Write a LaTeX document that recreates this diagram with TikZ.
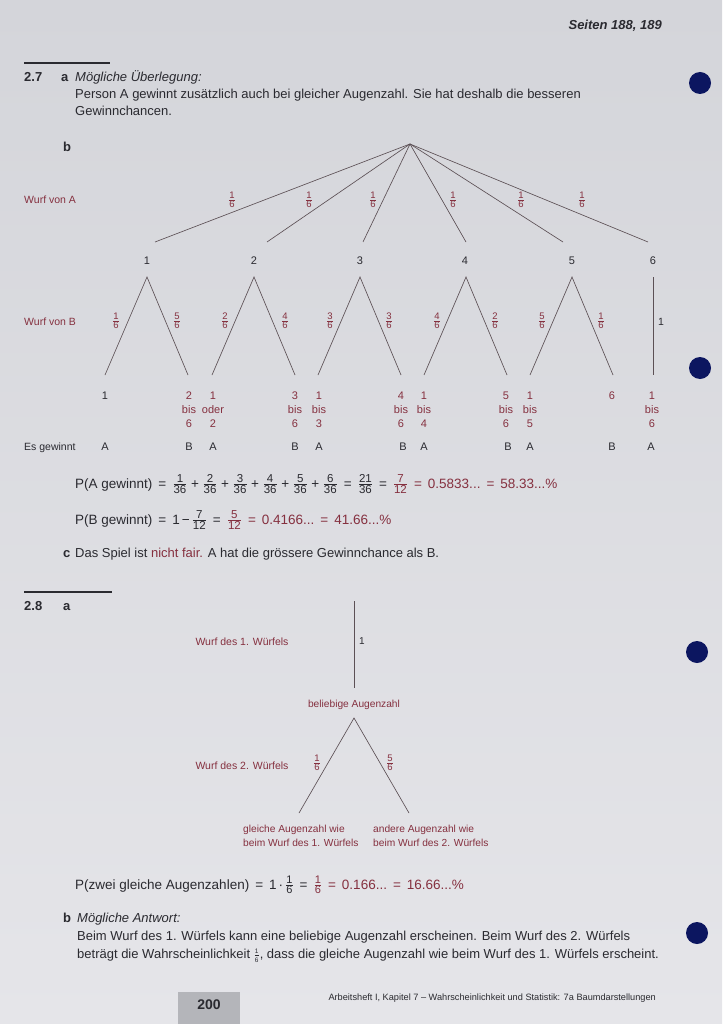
\documentclass[tikz,border=0pt]{standalone}
\usepackage{fontspec}
\setmainfont{Liberation Sans}
\definecolor{bgtop}{HTML}{D4D5DA}
\definecolor{bgbot}{HTML}{E5E5E9}
\definecolor{ink}{HTML}{2A2A30}
\definecolor{ans}{HTML}{85303F}
\definecolor{treeln}{HTML}{5C5055}
\definecolor{dotc}{HTML}{0C1660}
\definecolor{tabc}{HTML}{B4B5BA}
\newcommand\fr[3][9.5]{\ensuremath{\frac{\hbox{\fontsize{#1}{#1}\selectfont #2}}{\hbox{\fontsize{#1}{#1}\selectfont #3}}}}
\newcommand\eq{\hspace{6pt}=\hspace{6pt}}
\newcommand\pl{\hspace{3.5pt}+\hspace{3.5pt}}
\begin{document}
\begin{tikzpicture}[x=1pt,y=-1pt,
  body/.style={inner sep=0pt, anchor=base west, text=ink, font=\fontsize{13}{15}\selectfont},
  bodyb/.style={body, font=\fontsize{13}{15}\selectfont\bfseries},
  eqn/.style={body, font=\fontsize{13.5}{15}\selectfont},
  lab/.style={inner sep=0pt, anchor=base west, text=ans, font=\fontsize{10.5}{12}\selectfont},
  small/.style={inner sep=0pt, anchor=base, text=ink, font=\fontsize{11}{14}\selectfont, align=center},
  smallred/.style={small, text=ans},
  frac/.style={inner sep=0pt, text=ans},
  branch/.style={draw=treeln, line width=0.65pt},
  bullet/.style={circle, fill=dotc, minimum size=22pt, inner sep=0pt},
  rulebar/.style={line width=2pt, draw=ink}]
\useasboundingbox (0,0) rectangle (722,1024);
\shade[top color=bgtop, bottom color=bgbot] (0,0) rectangle (722,1024);

% header
\node[inner sep=0pt, anchor=base east, text=ink, font=\fontsize{13}{15}\selectfont\bfseries\itshape] (hdr) at (662,30) {Seiten 188, 189};

% 2.7
\coordinate (r1a) at (24,63); \coordinate (r1b) at (110,63);
\draw[rulebar] (r1a) -- (r1b);
\node[bodyb] (n27) at (24,82) {2.7};
\node[bodyb] (n27a) at (61,82) {a};
\node[body, font=\fontsize{13}{15}\selectfont\itshape] (ue) at (75,82) {Mögliche Überlegung:};
\node[body] (p1) at (75,99) {Person A gewinnt zusätzlich auch bei gleicher Augenzahl. Sie hat deshalb die besseren};
\node[body] (p2) at (75,116) {Gewinnchancen.};
\node[bullet] (dot1) at (700,83) {};

\node[bodyb] (n27b) at (63,152) {b};

% tree level 1
\node[lab] (wa) at (24,204) {Wurf von A};
\coordinate (root) at (410,144);
\foreach \i/\x in {1/155,2/267,3/363,4/466,5/563,6/648}
  \coordinate (e\i) at (\x,242);
\foreach \i in {1,...,6} \draw[branch] (root) -- (e\i);
\foreach \i/\x in {1/232,2/309,3/373,4/453,5/521,6/582}
  \node[frac] (fa\i) at (\x,200) {\fr{1}{6}};
\foreach \i/\x in {1/147,2/254,3/360,4/465,5/572,6/653}
  \node[small] (k\i) at (\x,264) {\i};

% tree level 2
\node[lab] (wb) at (24,325) {Wurf von B};
\foreach \i/\x in {1/147,2/254,3/360,4/466,5/572}{
  \coordinate (b\i) at (\x,277);
  \coordinate (l\i) at (\x-42,375);
  \coordinate (r\i) at (\x+41,375);
  \draw[branch] (l\i) -- (b\i) -- (r\i);
}
\coordinate (b6) at (653,277); \coordinate (l6) at (653,375);
\draw[branch] (b6) -- (l6);
\node[frac] (fb1l) at (116,321) {\fr{1}{6}};
\node[frac] (fb1r) at (177,321) {\fr{5}{6}};
\node[frac] (fb2l) at (225,321) {\fr{2}{6}};
\node[frac] (fb2r) at (285,321) {\fr{4}{6}};
\node[frac] (fb3l) at (330,321) {\fr{3}{6}};
\node[frac] (fb3r) at (389,321) {\fr{3}{6}};
\node[frac] (fb4l) at (437,321) {\fr{4}{6}};
\node[frac] (fb4r) at (495,321) {\fr{2}{6}};
\node[frac] (fb5l) at (542,321) {\fr{5}{6}};
\node[frac] (fb5r) at (601,321) {\fr{1}{6}};
\node[frac, text=ink, font=\fontsize{10.5}{12}\selectfont] (fb6) at (661,322) {1};

% outcomes
\node[small] (o1l) at (105,399) {1};
\node[smallred] (o1r) at (189,427) {2\\bis\\6};
\node[smallred] (o2l) at (213,427) {1\\oder\\2};
\node[smallred] (o2r) at (295,427) {3\\bis\\6};
\node[smallred] (o3l) at (319,427) {1\\bis\\3};
\node[smallred] (o3r) at (401,427) {4\\bis\\6};
\node[smallred] (o4l) at (424,427) {1\\bis\\4};
\node[smallred] (o4r) at (506,427) {5\\bis\\6};
\node[smallred] (o5l) at (530,427) {1\\bis\\5};
\node[smallred] (o5r) at (612,399) {6};
\node[smallred] (o6) at (652,427) {1\\bis\\6};

\node[body, font=\fontsize{10.5}{12}\selectfont] (eg) at (24,450) {Es gewinnt};
\foreach \n/\x/\t in {g1/105/A,g2/189/B,g3/213/A,g4/295/B,g5/319/A,g6/403/B,g7/424/A,g8/508/B,g9/530/A,g10/612/B,g11/651/A}
  \node[small] (\n) at (\x,450) {\t};

\node[bullet] (dot2) at (700,368) {};

% probabilities
\node[eqn] (pa) at (75,488) {P(A gewinnt)\eq\fr[11.5]{1}{36}\pl\fr[11.5]{2}{36}\pl\fr[11.5]{3}{36}\pl\fr[11.5]{4}{36}\pl\fr[11.5]{5}{36}\pl\fr[11.5]{6}{36}\eq\fr[11.5]{21}{36}\eq\textcolor{ans}{\fr[11.5]{7}{12}\eq 0.5833...\eq 58.33...\%}};
\node[eqn] (pb) at (75,524) {P(B gewinnt)\eq 1\hspace{2pt}−\hspace{2pt}\fr[11.5]{7}{12}\eq\textcolor{ans}{\fr[11.5]{5}{12}\eq 0.4166...\eq 41.66...\%}};
\node[bodyb] (n27c) at (63,557) {c};
\node[body] (pc) at (75,557) {Das Spiel ist \textcolor{ans}{nicht fair.} A hat die grössere Gewinnchance als B.};

% 2.8
\coordinate (r2a) at (24,592); \coordinate (r2b) at (112,592);
\draw[rulebar] (r2a) -- (r2b);
\node[bodyb] (n28) at (24,610) {2.8};
\node[bodyb] (n28a) at (63,610) {a};

\coordinate (t0) at (354,601);
\node[inner sep=0pt, anchor=base, text=ans, font=\fontsize{10.2}{12}\selectfont] (bel) at (354,707) {beliebige Augenzahl};
\coordinate (t1) at (354,688);
\draw[branch] (t0) -- (t1);
\node[lab, anchor=base] (w1) at (242,645) {Wurf des 1. Würfels};
\node[frac, text=ink, font=\fontsize{10}{12}\selectfont] (one) at (362,641) {1};
\node[bullet] (dot3) at (697,652) {};

\coordinate (ap) at (354,718);
\coordinate (lf) at (299,813);
\coordinate (rt) at (409,813);
\draw[branch] (lf) -- (ap) -- (rt);
\node[frac] (f2l) at (317,763) {\fr{1}{6}};
\node[frac] (f2r) at (390,763) {\fr{5}{6}};
\node[lab, anchor=base] (w2) at (242,769) {Wurf des 2. Würfels};
\node[inner sep=0pt, anchor=base west, text=ans, font=\fontsize{10.2}{14}\selectfont, align=left] (lv1) at (243,846) {gleiche Augenzahl wie\\beim Wurf des 1. Würfels};
\node[inner sep=0pt, anchor=base west, text=ans, font=\fontsize{10.2}{14}\selectfont, align=left] (lv2) at (373,846) {andere Augenzahl wie\\beim Wurf des 2. Würfels};

\node[eqn] (pz) at (75,889) {P(zwei gleiche Augenzahlen)\eq 1\hspace{2pt}·\hspace{2pt}\fr[11]{1}{6}\eq\textcolor{ans}{\fr[11]{1}{6}\eq 0.166...\eq 16.66...\%}};

\node[bodyb] (n28b) at (63,922) {b};
\node[body, font=\fontsize{13}{15}\selectfont\itshape] (ma) at (77,922) {Mögliche Antwort:};
\node[body] (q1) at (77,940) {Beim Wurf des 1. Würfels kann eine beliebige Augenzahl erscheinen. Beim Wurf des 2. Würfels};
\node[body] (q2) at (77,958) {beträgt die Wahrscheinlichkeit \smash{\fr[6.5]{1}{6}}, dass die gleiche Augenzahl wie beim Wurf des 1. Würfels erscheint.};
\node[bullet] (dot4) at (697,933) {};

% footer
\fill[tabc] (178,992) rectangle (240,1024);
\node[inner sep=0pt, anchor=base, text=ink, font=\fontsize{14}{16}\selectfont\bfseries] (pg) at (209,1009) {200};
\node[inner sep=0pt, anchor=base east, text=ink, font=\fontsize{9.2}{11}\selectfont] (ft) at (656,1000) {Arbeitsheft I, Kapitel 7 – Wahrscheinlichkeit und Statistik: 7a Baumdarstellungen};
\end{tikzpicture}
\end{document}
